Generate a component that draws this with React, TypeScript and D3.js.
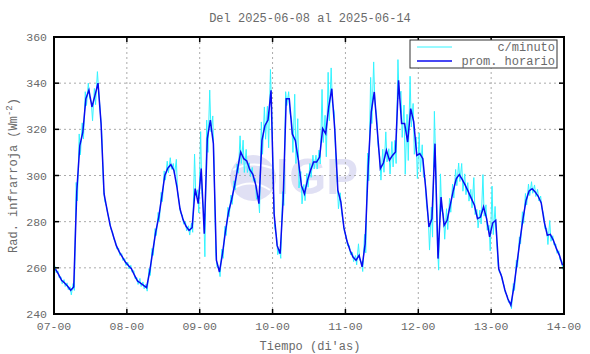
import React from 'react';
import * as d3 from 'd3';

const W = 590;
const H = 354;
const M = { left: 54, right: 26, top: 37, bottom: 40 };

// hourly averages, one per hour starting 2025-06-07 00h (centered on the half hour)
const promHorario = [
  259.4, 257.2, 254.6, 253.4, 252, 250.3, 251.7, 293, 313, 318.8,
  333.3, 337, 329.7, 334.7, 340, 322.5, 292, 285, 278.4, 274,
  269.7, 266.9, 264.7, 262.5, 261, 259.6, 256.8, 254.3, 253.4, 252.4,
  251.4, 258.2, 266.9, 275.5, 282, 290.7, 300, 303.2, 304.7, 302.2,
  295, 285.6, 280.9, 278, 276.2, 277.4, 294.3, 287.8, 303, 274.8,
  316, 324, 313.8, 263.3, 258.2, 266.1, 276, 284.2, 289.5, 295.7,
  303, 310.2, 307.3, 306.3, 302.5, 300.5, 295.7, 287.8, 315.2, 321.7,
  324, 336.9, 283.5, 269.7, 266.1, 290, 333.3, 333.3, 318, 315.2,
  306.6, 295.7, 292.1, 297.9, 302.2, 305.8, 305.8, 308, 320.3, 318.1,
  329.7, 337.6, 319.6, 293.6, 288.5, 277.4, 271.6, 267.6, 264.7, 263.3,
  265.4, 260.4, 270.5, 303.7, 327.5, 336.2, 319.6, 303, 305.4, 310.9,
  306.6, 308.7, 310.2, 341.2, 322.5, 322.5, 314.5, 329, 323.2, 308.7,
  309.5, 307.3, 293.6, 277.7, 281.3, 313.8, 264, 290.7, 278.4, 280.6,
  287.1, 293.3, 298.6, 300.4, 298.2, 295.7, 292.9, 290, 287.1, 281.3,
  282, 286.4, 281.3, 273.4, 279.4, 280.6, 259.6, 256, 250.5, 246.6,
  243.8, 251.7, 261.8, 271.9, 281.3, 289.2, 293.3, 294.3, 292.9, 291,
  288.1, 279.9, 274.1, 274.5, 271.9, 268.3, 265.4, 261.1,
];

// per-minute spread within each hour: how far the minute data went above / below the hourly mean
const minutoArriba = [
  1.5, 1.5, 1.5, 1.5, 1.5, 1.5, 1.5, 4, 5, 4,
  3, 3, 2, 3, 5, 4, 3, 1.5, 2, 1.5,
  1.5, 1.5, 1.5, 1.5, 1.5, 1.5, 2, 1.5, 2, 1.5,
  1.5, 1.5, 1.5, 1.5, 2, 2, 2, 3, 3, 3,
  12, 2, 2, 2, 2, 2, 15, 6, 16, 10,
  8, 13, 12, 3, 2, 2, 2, 2, 2, 2,
  2, 7, 8, 5, 3, 3, 3, 3, 8, 8,
  6, 9, 10, 4, 2, 3, 3, 3, 6, 20,
  18, 6, 4, 3, 3, 3, 3, 3, 17, 8,
  15, 9, 8, 4, 4, 2, 2, 2, 2, 2,
  5, 2, 4, 6, 15, 13, 6, 5, 6, 8,
  5, 6, 5, 9, 14, 8, 12, 14, 8, 8,
  9, 6, 5, 4, 5, 14, 6, 10, 5, 5,
  3, 3, 4, 5, 7, 5, 4, 4, 12, 4,
  3, 14, 6, 5, 16, 6, 1.5, 1.5, 1.5, 1.5,
  1.5, 1.5, 1.5, 1.5, 3, 3, 3, 3, 3, 3,
  3, 3, 3, 6, 2, 2, 2, 2,
];
const minutoAbajo = [
  1.5, 1.5, 1.5, 1.5, 1.5, 2, 1.5, 4, 4, 3,
  3, 3, 6, 4, 3, 3, 3, 1.5, 1.5, 1.5,
  1.5, 1.5, 1.5, 1.5, 1.5, 1.5, 1.5, 1.5, 1.5, 1.5,
  1.5, 1.5, 1.5, 1.5, 2, 2, 2, 2, 2, 2,
  2, 2, 2, 2, 2, 2, 3, 4, 10, 10,
  6, 5, 8, 3, 2, 2, 2, 2, 2, 2,
  2, 5, 6, 5, 3, 3, 6, 4, 6, 6,
  12, 8, 6, 4, 2, 3, 3, 6, 8, 10,
  12, 8, 3, 3, 3, 3, 3, 3, 6, 10,
  6, 6, 8, 8, 4, 2, 2, 2, 2, 2,
  2, 2, 4, 6, 5, 5, 6, 5, 4, 5,
  6, 5, 5, 8, 6, 22, 8, 8, 14, 10,
  8, 8, 6, 10, 8, 6, 5, 6, 6, 4,
  3, 3, 3, 3, 5, 4, 4, 4, 4, 4,
  3, 4, 5, 6, 5, 6, 1.5, 1.5, 1.5, 1.5,
  1.5, 1.5, 1.5, 1.5, 2, 2, 2, 2, 2, 2,
  2, 3, 4, 3, 2, 2, 2, 2,
];

const dayLabels = ['07-00', '08-00', '09-00', '10-00', '11-00', '12-00', '13-00', '14-00'];
const yTicks = [240, 260, 280, 300, 320, 340, 360];

const FONT = "'Liberation Mono', 'DejaVu Sans Mono', monospace";
const TXT = '#6a6a6a';

export default function App() {
  const x = d3.scaleLinear().domain([0, 168]).range([M.left, W - M.right]);
  const y = d3.scaleLinear().domain([240, 360]).range([H - M.bottom, M.top]);

  const hourly = promHorario.map((v, i) => [i + 0.5, v] as [number, number]);
  const minute: [number, number][] = [];
  promHorario.forEach((v, i) => {
    minute.push([i + 0.3, v + minutoArriba[i]]);
    minute.push([i + 0.7, v - minutoAbajo[i]]);
  });

  const line = d3.line<[number, number]>().x(d => x(d[0])).y(d => y(d[1]));

  const x0 = M.left, x1 = W - M.right, y0 = M.top, y1 = H - M.bottom;
  const dayX = dayLabels.map((_, i) => x(i * 24));

  return (
    <svg width={W} height={H} style={{ position: 'fixed', left: 0, top: 0, background: '#fff' }}>
      <defs>
        <clipPath id="plot">
          <rect x={x0} y={y0} width={x1 - x0} height={y1 - y0} />
        </clipPath>
      </defs>

      {/* watermark */}
      <g opacity={0.7}>
        <circle cx={253} cy={178} r={23} fill="#d4d4f0" />
        <path d="M233,170 Q250,160 272,168" stroke="#fff" strokeWidth={2} fill="none" />
        <path d="M234,188 Q252,178 270,190" stroke="#fff" strokeWidth={2} fill="none" />
        <text x={276} y={194} fontFamily="Liberation Sans, Arial, sans-serif" fontWeight="bold"
          fontSize={50} fill="#d4d4f0" textLength={82} lengthAdjust="spacingAndGlyphs">IGP</text>
      </g>

      {/* grid */}
      <g stroke="#aaa" strokeWidth={1} strokeDasharray="2,3">
        {dayX.slice(1, -1).map((px, i) => (
          <line key={'gx' + i} x1={px} x2={px} y1={y0} y2={y1} />
        ))}
        {yTicks.slice(1, -1).map(t => (
          <line key={'gy' + t} x1={x0} x2={x1} y1={y(t)} y2={y(t)} />
        ))}
      </g>

      <g clipPath="url(#plot)" fill="none">
        <path d={line(minute) || ''} stroke="#33f4ff" strokeWidth={1} />
        <path d={line(hourly) || ''} stroke="#0a0af0" strokeWidth={1.5} />
      </g>

      {/* ticks */}
      <g stroke="#000" strokeWidth={1.5}>
        {dayX.map((px, i) => (
          <g key={'tx' + i}>
            <line x1={px} x2={px} y1={y1} y2={y1 - 5} />
            <line x1={px} x2={px} y1={y0} y2={y0 + 5} />
          </g>
        ))}
        {yTicks.map(t => (
          <g key={'ty' + t}>
            <line x1={x0} x2={x0 + 5} y1={y(t)} y2={y(t)} />
            <line x1={x1} x2={x1 - 5} y1={y(t)} y2={y(t)} />
          </g>
        ))}
      </g>

      <rect x={x0} y={y0} width={x1 - x0} height={y1 - y0} fill="none" stroke="#000" strokeWidth={2} />

      {/* tick labels */}
      <g fontFamily={FONT} fontSize={11.5} fill={TXT}>
        {dayLabels.map((d, i) => (
          <text key={d} x={dayX[i]} y={y1 + 16} textAnchor="middle">{d}</text>
        ))}
        {yTicks.map(t => (
          <text key={t} x={x0 - 7} y={y(t) + 4} textAnchor="end">{t}</text>
        ))}
      </g>

      <text x={310} y={22} textAnchor="middle" fontFamily={FONT} fontSize={12} fill={TXT}>
        Del 2025-06-08 al 2025-06-14
      </text>
      <text x={310} y={350} textAnchor="middle" fontFamily={FONT} fontSize={12} fill={TXT}>
        Tiempo (di'as)
      </text>
      <text transform={`translate(17,${(y0 + y1) / 2}) rotate(-90)`} textAnchor="middle"
        fontFamily={FONT} fontSize={12} fill={TXT}>
        Rad. infrarroja (Wm<tspan fontSize={9} dy={-5}>-2</tspan><tspan dy={5}>)</tspan>
      </text>

      {/* legend */}
      <g>
        <rect x={410} y={40} width={147} height={28} fill="#fff" stroke="#333" strokeWidth={1} />
        <line x1={417} x2={452} y1={47} y2={47} stroke="#33f4ff" strokeWidth={1} />
        <line x1={417} x2={452} y1={61} y2={61} stroke="#0a0af0" strokeWidth={1.5} />
        <g fontFamily={FONT} fontSize={12} fill={TXT} textAnchor="end">
          <text x={555} y={51}>c/minuto</text>
          <text x={555} y={65}>prom. horario</text>
        </g>
      </g>
    </svg>
  );
}
